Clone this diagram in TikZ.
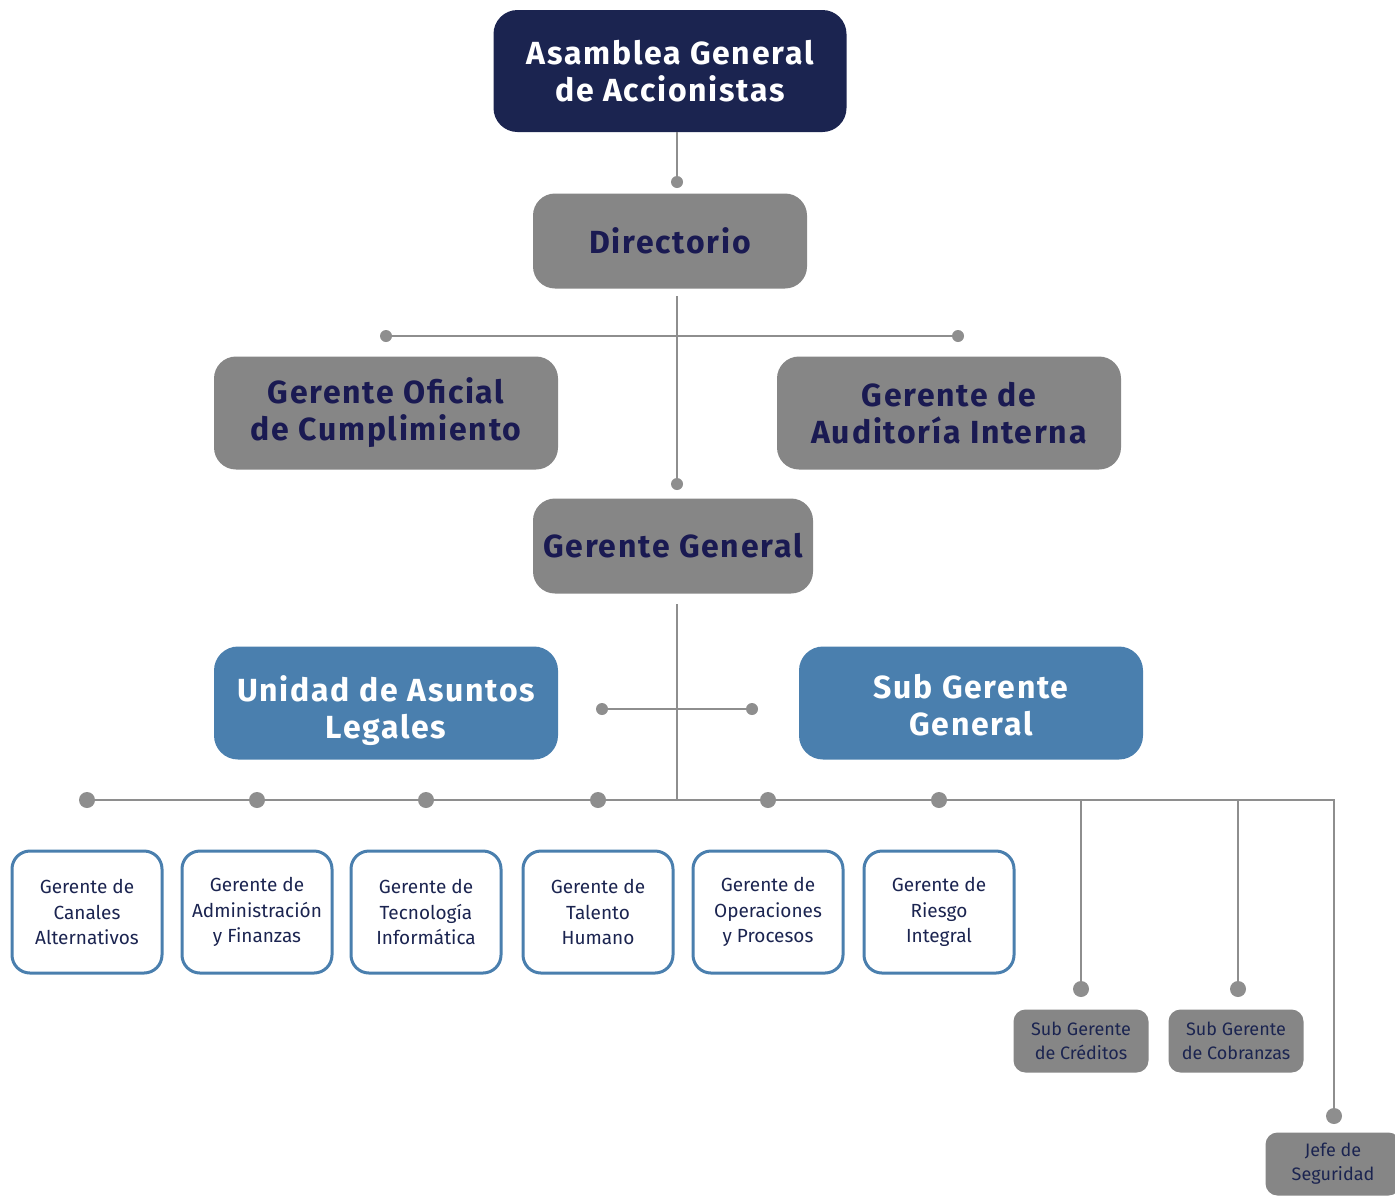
\documentclass[tikz,border=0pt]{standalone}
\usepackage{fontspec}
\setmainfont{Fira Sans}
\newfontfamily\titlefont[LetterSpace=5.5]{Fira Sans}
\usepackage{tikz}
\usetikzlibrary{positioning}
\definecolor{navy}{HTML}{1B2450}
\definecolor{boxgray}{HTML}{868686}
\definecolor{steel}{HTML}{4A7FAE}
\definecolor{ink}{HTML}{1A1A52}
\definecolor{wire}{HTML}{8E8E8E}

\begin{document}
\begin{tikzpicture}[x=0.5pt, y=-0.5pt,
    big/.style={font=\fontsize{16}{18.5}\titlefont\bfseries},
    head/.style={big, fill=navy, text=white, rounded corners=12pt, align=center, inner sep=0pt},
    grey/.style={big, fill=boxgray, text=ink, rounded corners=11pt, align=center, inner sep=0pt},
    unit/.style={fill=steel, rounded corners=12pt, inner sep=0pt, minimum width=172pt, minimum height=56.5pt},
    unittext/.style={big, text=white, align=center, yshift=-4pt},
    mgr/.style={draw=steel, line width=1.5pt, fill=white, text=navy, rounded corners=9pt, align=center, inner sep=0pt, minimum width=75pt, minimum height=61pt, font=\fontsize{9.5}{12.75}\selectfont},
    sub/.style={fill=boxgray, text=navy, rounded corners=6pt, align=center, inner sep=0pt, minimum width=67.5pt, minimum height=31.5pt, font=\fontsize{9}{12}\selectfont},
    dot/.style={circle, fill=wire, inner sep=0pt, minimum size=6pt},
    bigdot/.style={circle, fill=wire, inner sep=0pt, minimum size=8pt},
    wire/.style={draw=wire, line width=1pt}]
    \useasboundingbox (0,0) rectangle (1395,1195);

    % top of the chart
    \node[head, minimum width=176.5pt, minimum height=61pt] (AGA) at (670,71) {Asamblea General\\de Accionistas};
    \node[dot] (d0) at (677,182) {};
    \node[grey, minimum width=137pt, minimum height=47.5pt] (DIR) at (670,241) {Directorio};
    \path[wire] (AGA.south -| d0) -- (d0);

    \coordinate (dirout) at (677,296);
    \node[dot] (d1) at (677,484) {};
    \node[dot] (dL) at (386,336) {};
    \node[dot] (dR) at (958,336) {};
    \path[wire] (dirout) -- (d1);
    \path[wire] (dL) -- (dR);

    \node[grey, minimum width=172pt, minimum height=56.5pt] (GOC) at (386,413) {Gerente Oficial\\de Cumplimiento};
    \node[grey, minimum width=172pt, minimum height=56.5pt] (GAI) at (949,413) {Gerente de\\Auditoría Interna};
    \node[grey, minimum width=140pt, minimum height=47.5pt] (GG) at (673,546) {Gerente General};

    % staff units
    \coordinate (ggout) at (677,604);
    \coordinate (hub) at (677,800);
    \path[wire] (ggout) -- (hub);
    \node[dot] (e1) at (602,709) {};
    \node[dot] (e2) at (752,709) {};
    \path[wire] (e1) -- (e2);

    \node[unit, label={[unittext]center:Unidad de Asuntos\\Legales}] (UAL) at (386,703) {};
    \node[unit, label={[unittext, yshift=3pt]center:Sub Gerente\\General}] (SGG) at (971,703) {};

    % managers
    \node[bigdot] (b1) at (87,800) {};
    \node[bigdot] (b2) at (257,800) {};
    \node[bigdot] (b3) at (426,800) {};
    \node[bigdot] (b4) at (598,800) {};
    \node[bigdot] (b5) at (768,800) {};
    \node[bigdot] (b6) at (939,800) {};
    \coordinate (bend) at (1334,800);
    \node[bigdot] (s1) at (1081,989) {};
    \node[bigdot] (s2) at (1238,989) {};
    \node[bigdot] (s3) at (1334,1116) {};

    \path[wire] (b1) -- (b6);
    \path[wire] (b6) -- (bend) -- (s3);
    \path[wire] (s1 |- bend) -- (s1);
    \path[wire] (s2 |- bend) -- (s2);

    \node[mgr] (GCA) at (87,912) {Gerente de\\Canales\\Alternativos};
    \node[mgr] (GAF) at (257,912) {Gerente de\\Administración\\y Finanzas};
    \node[mgr] (GTI) at (426,912) {Gerente de\\Tecnología\\Informática};
    \node[mgr] (GTH) at (598,912) {Gerente de\\Talento\\Humano};
    \node[mgr] (GOP) at (768,912) {Gerente de\\Operaciones\\y Procesos};
    \node[mgr] (GRI) at (939,912) {Gerente de\\Riesgo\\Integral};

    \node[sub] (SGC) at (1081,1041) {Sub Gerente\\de Créditos};
    \node[sub] (SGZ) at (1236,1041) {Sub Gerente\\de Cobranzas};
    \node[sub] (JS) at (1333,1164) {Jefe de\\Seguridad};
\end{tikzpicture}
\end{document}
